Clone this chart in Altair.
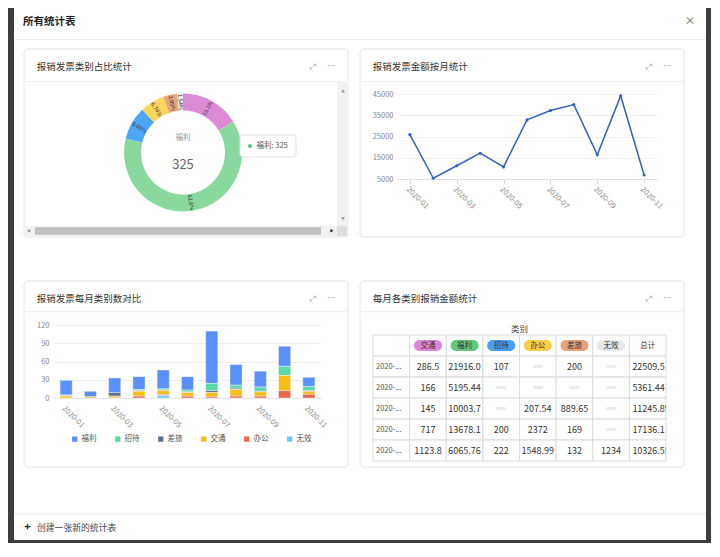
import altair as alt
import pandas as pd

FONT = "Noto Sans CJK SC"

# ---------------- data ----------------
pie_cats = ["交通", "福利", "招待", "办公", "差旅", "无效"]
pie_counts = [84, 325, 47, 35, 20, 8]
pie_colors = ["#dc8ad6", "#89d99f", "#4da6f5", "#f9d55c", "#e8a57b", "#ececec"]

months = ["2020-01", "2020-02", "2020-03", "2020-04", "2020-05", "2020-06",
          "2020-07", "2020-08", "2020-09", "2020-10", "2020-11"]
odd_months = months[::2]
line_amount = [25900, 5361, 11246, 17136, 10700, 32800, 37200, 40000, 16400, 44100, 6900]
line_ticks = [5000, 15000, 25000, 35000, 45000]

bar_cats = ["福利", "招待", "差旅", "交通", "办公", "无效"]
bar_colors = ["#5B8FF9", "#5AD8A6", "#5D7092", "#F6BD16", "#E8684A", "#6DC8EC"]
bar_welfare = [24, 9, 24, 21, 31, 22, 86, 34, 26, 33, 15]
bar_hosting = [1, 0, 0, 2, 2, 3, 12, 5, 7, 15, 7]
bar_travel = [1, 0, 6, 1, 1, 1, 3, 2, 1, 0, 1]
bar_transport = [3, 2, 2, 8, 6, 6, 7, 11, 7, 25, 5]
bar_office = [0, 0, 1, 3, 2, 3, 2, 3, 3, 12, 6]
bar_invalid = [0, 0, 0, 0, 4, 0, 0, 0, 0, 0, 0]
bar_ticks = [0, 30, 60, 90, 120]

tbl_months = months[:5]
tbl_cats = ["交通", "福利", "招待", "办公", "差旅", "无效"]
tag_colors = ["#dd85d8", "#5fca7c", "#479ff4", "#f8d046", "#e6a27a", "#e8e8e8"]
tbl_transport = [286.5, 166, 145, 717, 1123.8]
tbl_welfare = [21916.0, 5195.44, 10003.7, 13678.1, 6065.76]
tbl_hosting = [107, None, None, 200, 222]
tbl_office = [None, None, 207.54, 2372, 1548.99]
tbl_travel = [200, None, 889.65, 169, 132]
tbl_invalid = [None, None, None, None, 1234]

# ---------------- helpers (page chrome) ----------------
OX, OY = 54, 94  # page position of the first panel's plot origin
dummy = pd.DataFrame({"k": [0]})


def box(x1, y1, x2, y2, **kw):
    return alt.Chart(dummy).mark_rect(**kw).encode(
        x=alt.value(x1 - OX), x2=alt.value(x2 - OX),
        y=alt.value(y1 - OY), y2=alt.value(y2 - OY))


def hline(x1, x2, y, color):
    return alt.Chart(dummy).mark_rule(color=color, strokeWidth=1).encode(
        x=alt.value(x1 - OX), x2=alt.value(x2 - OX), y=alt.value(y - OY))


def label(x, y, s, size, color, align="left", weight="normal", font=FONT):
    return alt.Chart(dummy).mark_text(
        text=s, fontSize=size, color=color, align=align, baseline="middle",
        fontWeight=weight, font=font).encode(x=alt.value(x - OX), y=alt.value(y - OY))


chrome = [
    box(8, 8, 711, 543, fill="#3d3d3d"),
    box(14, 8, 706, 540, fill="#ffffff"),
    hline(14, 706, 39.5, "#eeeeee"),
    hline(14, 706, 514, "#e8e8e8"),
    label(23, 22, "所有统计表", 10.5, "#1f1f1f", weight="bold"),
    label(690, 22, "×", 11, "#666666", align="center"),
    label(27.5, 528, "+", 11, "#222222", align="center", weight="bold"),
    label(37, 528, "创建一张新的统计表", 8.8, "#444444"),
]
cards = [(24, 49, 348, 237, 81.7), (360, 49, 684, 237, 81.7),
         (24, 281, 348, 467, 311.7), (360, 281, 684, 467, 311.7)]
titles = ["报销发票类别占比统计", "报销发票金额按月统计", "报销发票每月类别数对比", "每月各类别报销金额统计"]
for (x1, y1, x2, y2, hy), t in zip(cards, titles):
    chrome.append(box(x1, y1, x2, y2, fill="#ffffff", stroke="#e6e6e6", strokeWidth=1, cornerRadius=3))
    chrome.append(hline(x1 + 1, x2 - 1, hy, "#f0f0f0"))
    ty = y1 + 17.7
    chrome.append(label(x1 + 12.7, ty, t, 9.5, "#333333"))
    chrome.append(label(x1 + 289, ty, "⤢", 8, "#aaaaaa", align="center", font="DejaVu Sans"))
    chrome.append(label(x1 + 307, ty, "···", 8, "#999999", align="center", font="DejaVu Sans"))
# scroll bars of the donut card
chrome += [
    box(25, 226, 347, 236, fill="#f1f1f1"),
    box(337, 82, 347, 226, fill="#f1f1f1"),
    box(337, 226, 347, 236, fill="#dcdcdc"),
    box(35, 227.3, 321, 234.7, fill="#c1c1c1"),
    label(343, 91, "▲", 4.5, "#999999", align="center", font="DejaVu Sans"),
    label(343, 219, "▼", 4.5, "#999999", align="center", font="DejaVu Sans"),
    label(28.5, 231, "◀", 4.5, "#999999", align="center", font="DejaVu Sans"),
    label(332, 231, "▶", 4.5, "#333333", align="center", font="DejaVu Sans"),
]

# ---------------- panel 1: donut ----------------
CX, CY = 183 - OX, 152.5 - OY
pie_df = pd.DataFrame({"cat": pie_cats, "n": pie_counts, "idx": list(range(len(pie_cats)))})
total = sum(pie_counts)


def trunc_pct(v):
    p = v / total * 100
    if p >= 10:
        return f"{int(p * 10) / 10:.1f}%"
    return f"{int(p * 100) / 100:.2f}%"


pie_df["label"] = [trunc_pct(v) for v in pie_counts]

pie_color = alt.Color("cat:N", scale=alt.Scale(domain=pie_cats, range=pie_colors), legend=None)
arcs = alt.Chart(pie_df).mark_arc(outerRadius=59, innerRadius=42).encode(
    theta=alt.Theta("n:Q", stack=True), order=alt.Order("idx:Q"),
    color=pie_color, x=alt.value(CX), y=alt.value(CY))

arc_labels = alt.Chart(pie_df).transform_joinaggregate(
    tot="sum(n)"
).transform_window(
    cum="sum(n)", sort=[alt.SortField("idx", order="ascending")], frame=[None, 0]
).transform_calculate(
    mid="(datum.cum - datum.n / 2) / datum.tot * 360",
    raw="(datum.mid + 270) % 360",
    ang="(datum.raw > 90 && datum.raw < 270) ? datum.raw - 180 : datum.raw",
).mark_text(radius=50.5, fontSize=5.5, color="#333333", align="center", baseline="middle").encode(
    theta=alt.Theta("n:Q", stack=True), order=alt.Order("idx:Q"),
    text="label:N", angle=alt.Angle("ang:Q", scale=None),
    x=alt.value(CX), y=alt.value(CY))

focus = alt.Chart(pie_df).transform_filter("datum.cat == '福利'")
center_name = focus.mark_text(fontSize=7.5, color="#999999").encode(
    text="cat:N", x=alt.value(CX), y=alt.value(138 - OY))
center_val = focus.mark_text(fontSize=13, color="#666666").encode(
    text="n:Q", x=alt.value(CX), y=alt.value(165 - OY))
tip_box = focus.mark_rect(fill="#ffffff", stroke="#e4e4e4", strokeWidth=1, cornerRadius=3).encode(
    x=alt.value(240 - OX), x2=alt.value(296 - OX), y=alt.value(135 - OY), y2=alt.value(157 - OY))
tip_dot = focus.mark_circle(size=18, opacity=1, color="#5fc77c").encode(
    x=alt.value(250 - OX), y=alt.value(146 - OY))
tip_txt = focus.transform_calculate(t="datum.cat + ': ' + datum.n").mark_text(
    fontSize=7.5, color="#555555", align="left", baseline="middle").encode(
    text="t:N", x=alt.value(256.5 - OX), y=alt.value(146 - OY))

p1 = alt.layer(*chrome, arcs, arc_labels, center_name, center_val, tip_box, tip_dot, tip_txt).properties(
    width=291, height=85)

# ---------------- panel 2: line ----------------
line_df = pd.DataFrame({"month": months, "amount": line_amount})
lx = alt.X("month:O", sort=months, title=None, scale=alt.Scale(type="point", padding=0.55),
           axis=alt.Axis(values=odd_months, labelAngle=45, labelAlign="left", labelBaseline="top",
                         domainColor="#e0e0e0", tickColor="#d6d6d6", tickSize=4, labelColor="#888888",
                         labelFontSize=7.5, labelPadding=2, grid=False))
ly = alt.Y("amount:Q", title=None, scale=alt.Scale(domain=[5000, 45000], nice=False, zero=False),
           axis=alt.Axis(values=line_ticks, format="d", domain=False, ticks=False, gridColor="#f1f1f1",
                         labelColor="#888888", labelFontSize=7.5, labelPadding=4))
line = alt.Chart(line_df).mark_line(color="#3562c4", strokeWidth=1.5).encode(x=lx, y=ly)
pts = alt.Chart(line_df).mark_circle(color="#3562c4", size=10, opacity=1).encode(x=lx, y=ly)
p2 = alt.layer(line, pts).properties(width=260, height=85)

# ---------------- panel 3: stacked bars ----------------
bar_series = [bar_welfare, bar_hosting, bar_travel, bar_transport, bar_office, bar_invalid]
rows = []
for k, (cat, vals) in enumerate(zip(bar_cats, bar_series)):
    for m, v in zip(months, vals):
        rows.append({"month": m, "cat": cat, "n": v, "stack_idx": len(bar_cats) - 1 - k})
bar_df = pd.DataFrame(rows)

p3 = alt.Chart(bar_df).transform_filter("datum.n > 0").mark_bar(stroke="#ffffff", strokeWidth=0.4).encode(
    x=alt.X("month:O", sort=months, title=None,
            scale=alt.Scale(paddingInner=0.5, paddingOuter=0.25),
            axis=alt.Axis(values=odd_months, labelAngle=45, labelAlign="left", labelBaseline="top",
                          ticks=False, domainColor="#e6e6e6", labelColor="#888888", labelFontSize=7.5,
                          labelPadding=6, grid=False)),
    y=alt.Y("n:Q", stack="zero", title=None, scale=alt.Scale(domain=[0, 120], nice=False),
            axis=alt.Axis(values=bar_ticks, domain=False, ticks=False, gridColor="#f0f0f0",
                          labelColor="#888888", labelFontSize=7.5, labelPadding=5)),
    color=alt.Color("cat:N", scale=alt.Scale(domain=bar_cats, range=bar_colors),
                    legend=alt.Legend(orient="none", direction="horizontal", legendX=17, legendY=110,
                                      title=None, symbolType="square", symbolSize=28,
                                      symbolStrokeWidth=0, labelFontSize=7.5, labelColor="#555555",
                                      labelOffset=3, columnPadding=17, padding=0)),
    order=alt.Order("stack_idx:Q", sort="ascending"),
).properties(width=267, height=73)

# ---------------- panel 4: table ----------------
hdr_cols = ["月份"] + tbl_cats + ["总计"]


def fmt(v):
    return None if v is None else str(v)


cells = []
for i, m in enumerate(tbl_months):
    vals = [tbl_transport[i], tbl_welfare[i], tbl_hosting[i], tbl_office[i], tbl_travel[i], tbl_invalid[i]]
    tot = round(sum(v for v in vals if v is not None), 2)
    r = i + 1
    cells.append({"col": "月份", "r": r, "kind": "month", "txt": m[:5] + "..."})
    for c, v in zip(tbl_cats, vals):
        cells.append({"col": c, "r": r, "kind": "val" if v is not None else "empty", "txt": fmt(v)})
    cells.append({"col": "总计", "r": r, "kind": "total", "txt": fmt(tot)})
cell_df = pd.DataFrame(cells)
cell_df["rc"] = cell_df["r"] + 0.5

grid_df = pd.DataFrame([{"col": c, "r0": r, "r1": r + 1} for r in range(len(tbl_months) + 1) for c in hdr_cols])
head_df = pd.DataFrame({"col": tbl_cats + ["总计"], "rc": 0.5})
cap_df = pd.DataFrame({"col": ["办公"], "rc": [-0.286], "txt": ["类别"]})


def tx(**kw):
    return alt.X("col:N", sort=hdr_cols, axis=None,
                 scale=alt.Scale(type="band", domain=hdr_cols, paddingInner=0, paddingOuter=0), **kw)


ysc = alt.Scale(domain=[-10 / 21, 6.0], reverse=True, nice=False, zero=False)

grid = alt.Chart(grid_df).mark_rect(fill="#ffffff", stroke="#dcdcdc", strokeWidth=1).encode(
    x=tx(), y=alt.Y("r0:Q", scale=ysc, axis=None), y2="r1:Q")
pills = alt.Chart(head_df).transform_filter("datum.col != '总计'").mark_tick(
    orient="horizontal", size=28, thickness=11, cornerRadius=5.5, opacity=1).encode(
    x=tx(), y=alt.Y("rc:Q", scale=ysc, axis=None),
    color=alt.Color("col:N", scale=alt.Scale(domain=tbl_cats, range=tag_colors), legend=None))
head_txt = alt.Chart(head_df).mark_text(fontSize=7.5, color="#333333").encode(
    x=tx(), y=alt.Y("rc:Q", scale=ysc, axis=None), text="col:N")
cap = alt.Chart(cap_df).mark_text(fontSize=8.5, color="#444444").encode(
    x=tx(bandPosition=0), y=alt.Y("rc:Q", scale=ysc, axis=None), text="txt:N")
vals_txt = alt.Chart(cell_df).transform_filter("datum.kind == 'val'").mark_text(
    fontSize=9, color="#333333").encode(
    x=tx(), y=alt.Y("rc:Q", scale=ysc, axis=None), text="txt:N")
tot_txt = alt.Chart(cell_df).transform_filter("datum.kind == 'total'").mark_text(
    fontSize=9, color="#333333", align="left", dx=3, clip=True).encode(
    x=tx(bandPosition=0), y=alt.Y("rc:Q", scale=ysc, axis=None), text="txt:N")
mon_txt = alt.Chart(cell_df).transform_filter("datum.kind == 'month'").mark_text(
    fontSize=7.5, color="#555555", align="left", dx=3).encode(
    x=tx(bandPosition=0), y=alt.Y("rc:Q", scale=ysc, axis=None), text="txt:N")
dashes = alt.Chart(cell_df).transform_filter("datum.kind == 'empty'").mark_tick(
    orient="horizontal", size=10, thickness=3, cornerRadius=1.5, opacity=1, color="#ebebeb").encode(
    x=tx(), y=alt.Y("rc:Q", scale=ysc, axis=None))

p4 = alt.layer(grid, pills, head_txt, cap, vals_txt, tot_txt, mon_txt, dashes).properties(width=293, height=136)

# ---------------- assemble ----------------
row1 = alt.hconcat(p1, p2, spacing=52, bounds="flush").resolve_scale(
    x="independent", y="independent", color="independent")
row2 = alt.hconcat(p3, p4, spacing=52, bounds="flush").resolve_scale(
    x="independent", y="independent", color="independent")
chart = alt.vconcat(row1, row2, spacing=231, bounds="flush").resolve_scale(
    x="independent", y="independent", color="independent"
).properties(
    padding=0, background="#3d3d3d"
).configure_view(stroke=None).configure_text(font=FONT).configure_axis(
    labelFont=FONT).configure_legend(labelFont=FONT)

chart.save("out.html", embed_options={"renderer": "svg", "actions": False})
